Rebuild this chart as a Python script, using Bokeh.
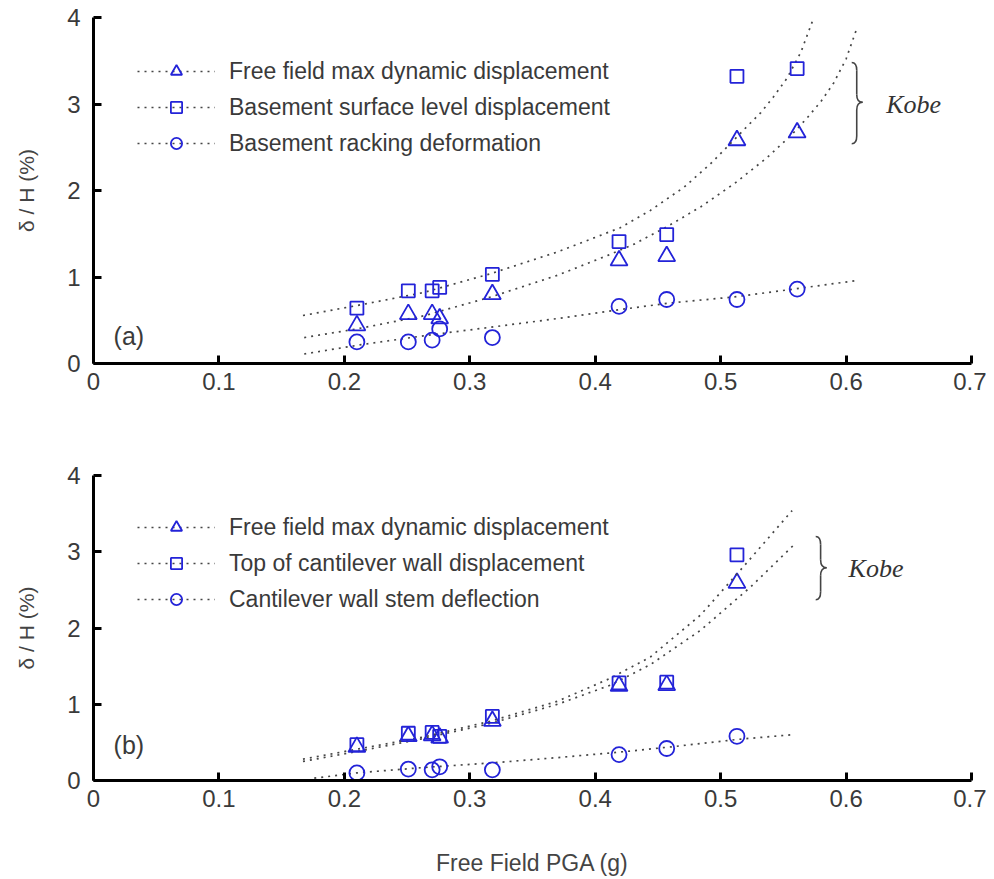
from bokeh.plotting import figure
from bokeh.layouts import column
from bokeh.models import Legend, LegendItem, FixedTicker
from bokeh.core.properties import value
from bokeh.embed import file_html
from bokeh.resources import INLINE

# ---------------- data ----------------
x_ticks = [0, 0.1, 0.2, 0.3, 0.4, 0.5, 0.6, 0.7]
x_tick_labels = ["0", "0.1", "0.2", "0.3", "0.4", "0.5", "0.6", "0.7"]
y_ticks = [0, 1, 2, 3, 4]
y_tick_labels = ["0", "1", "2", "3", "4"]

# panel (a) - basement
pga_a = [0.210, 0.251, 0.270, 0.276, 0.318, 0.419, 0.457, 0.513, 0.561]
ff_a = [0.44, 0.57, 0.57, 0.52, 0.80, 1.19, 1.24, 2.58, 2.67]
bsl_a = [0.64, 0.84, 0.84, 0.88, 1.03, 1.41, 1.49, 3.32, 3.41]
rack_a = [0.25, 0.25, 0.27, 0.40, 0.30, 0.66, 0.74, 0.74, 0.86]

# trend lines (a)
ff_fit_a_x = [0.168, 0.210, 0.263, 0.317, 0.370, 0.410, 0.431, 0.457, 0.484, 0.511, 0.537, 0.557, 0.569, 0.580, 0.590, 0.600, 0.608]
ff_fit_a_y = [0.30, 0.40, 0.55, 0.77, 1.02, 1.25, 1.38, 1.58, 1.81, 2.08, 2.38, 2.65, 2.84, 3.03, 3.24, 3.52, 3.85]
bsl_fit_a_x = [0.167, 0.210, 0.263, 0.317, 0.370, 0.420, 0.444, 0.471, 0.492, 0.513, 0.521, 0.532, 0.542, 0.553, 0.564, 0.573]
bsl_fit_a_y = [0.555, 0.67, 0.82, 1.04, 1.29, 1.57, 1.77, 2.04, 2.31, 2.62, 2.74, 2.90, 3.08, 3.30, 3.60, 3.95]
rack_fit_a_x = [0.168, 0.210, 0.263, 0.317, 0.370, 0.423, 0.460, 0.511, 0.558, 0.609]
rack_fit_a_y = [0.11, 0.21, 0.32, 0.42, 0.52, 0.63, 0.70, 0.77, 0.86, 0.96]

# panel (b) - cantilever wall
pga_b = [0.210, 0.251, 0.270, 0.276, 0.318, 0.419, 0.457, 0.513]
ff_b = [0.44, 0.58, 0.59, 0.56, 0.78, 1.24, 1.25, 2.59]
top_b = [0.47, 0.62, 0.63, 0.58, 0.84, 1.28, 1.29, 2.96]
stem_b = [0.10, 0.15, 0.14, 0.18, 0.14, 0.34, 0.42, 0.58]

ff_fit_b_x = [0.167, 0.210, 0.263, 0.317, 0.370, 0.412, 0.444, 0.484, 0.524, 0.559]
ff_fit_b_y = [0.25, 0.38, 0.55, 0.75, 1.00, 1.25, 1.52, 1.97, 2.54, 3.10]
top_fit_b_x = [0.167, 0.210, 0.263, 0.317, 0.370, 0.412, 0.444, 0.484, 0.519, 0.557]
top_fit_b_y = [0.28, 0.41, 0.57, 0.78, 1.04, 1.34, 1.62, 2.17, 2.82, 3.54]
stem_fit_b_x = [0.176, 0.210, 0.263, 0.317, 0.370, 0.418, 0.460, 0.514, 0.557]
stem_fit_b_y = [0.03, 0.10, 0.17, 0.23, 0.30, 0.37, 0.44, 0.54, 0.60]

labels_a = ["Free field max dynamic displacement",
            "Basement surface level displacement",
            "Basement racking deformation"]
labels_b = ["Free field max dynamic displacement",
            "Top of cantilever wall displacement",
            "Cantilever wall stem deflection"]

# ---------------- style ----------------
BLUE = "#2323d8"
DOT = "#454545"
TXT = "#3a3a3a"
FONT = "Liberation Sans"


def make_panel(height, top, bottom, xlabel, pga, series, fits, labels,
               legend_loc, panel_label, panel_label_y, brace, kobe_xy):
    p = figure(width=986, height=height, x_range=(0, 0.7), y_range=(0, 4),
               output_backend="svg", toolbar_location=None,
               min_border_left=93, min_border_right=15,
               min_border_top=top, min_border_bottom=bottom)
    p.outline_line_color = None
    p.xgrid.visible = False
    p.ygrid.visible = False

    for ax, ticks, labs in ((p.xaxis[0], x_ticks, x_tick_labels),
                            (p.yaxis[0], y_ticks, y_tick_labels)):
        ax.ticker = FixedTicker(ticks=ticks)
        ax.major_label_overrides = dict(zip(ticks, labs))
        ax.axis_line_width = 3
        ax.axis_line_color = "black"
        ax.major_tick_in = 8
        ax.major_tick_out = 0
        ax.major_tick_line_width = 3
        ax.minor_tick_line_color = None
        ax.major_label_text_font = FONT
        ax.major_label_text_font_size = "24px"
        ax.major_label_text_color = TXT
        ax.axis_label_text_font = FONT
        ax.axis_label_text_font_style = "normal"
        ax.axis_label_text_color = "#444444"

    p.xaxis.major_label_standoff = 9
    p.yaxis.major_label_standoff = 13
    p.yaxis.axis_label = "\u03b4 / H (%)"
    p.yaxis.axis_label_text_font_size = "21px"
    p.yaxis.axis_label_standoff = 26
    if xlabel:
        p.xaxis.axis_label = xlabel
        p.xaxis.axis_label_text_font_size = "23px"
        p.xaxis.axis_label_standoff = 40

    markers = ["triangle", "square", "circle"]
    sizes = [17, 13, 15]
    items = []
    for (ys, (fx, fy), mk, sz, lab) in zip(series, fits, markers, sizes, labels):
        lr = p.line(fx, fy, line_color=DOT, line_width=1.7, line_dash="2 5")
        sr = p.scatter(pga, ys, marker=mk, size=sz, fill_color=None,
                       line_color=BLUE, line_width=1.8)
        items.append(LegendItem(label=lab, renderers=[lr, sr]))

    legend = Legend(items=items, location=legend_loc,
                    border_line_color=None, background_fill_alpha=0,
                    padding=0, margin=0, spacing=8,
                    glyph_width=78, glyph_height=28, label_standoff=14,
                    label_text_font=FONT, label_text_font_size="23px",
                    label_text_color=TXT, label_text_baseline="middle")
    p.add_layout(legend)

    p.text(x=[0.016], y=[panel_label_y], text=[panel_label],
           text_font=value(FONT), text_font_size="25px",
           text_color=TXT, text_baseline="middle")

    # curly brace "}"
    x0, xm, xt, yt, ym, yb, r = brace
    bc = "#444444"
    p.quadratic(x0=[x0, xm, xm, x0], y0=[yt, ym + r, ym - r, yb],
                x1=[xm, xt, xt, xm], y1=[yt - r, ym, ym, yb + r],
                cx=[xm, xm, xm, xm], cy=[yt, ym, ym, yb],
                line_color=bc, line_width=1.6)
    p.segment(x0=[xm, xm], y0=[yt - r, ym - r], x1=[xm, xm], y1=[ym + r, yb + r],
              line_color=bc, line_width=1.6)
    p.text(x=[kobe_xy[0]], y=[kobe_xy[1]], text=["Kobe"],
           text_font=value("Liberation Serif"), text_font_style="italic",
           text_font_size="26px", text_color="#333333", text_baseline="middle")
    return p


pa = make_panel(428, 17, 65, None, pga_a, [ff_a, bsl_a, rack_a],
                [(ff_fit_a_x, ff_fit_a_y), (bsl_fit_a_x, bsl_fit_a_y),
                 (rack_fit_a_x, rack_fit_a_y)],
                labels_a, (44, 206), "(a)", 0.32,
                (0.6045, 0.6085, 0.6132, 3.48, 3.02, 2.54, 0.09), (0.632, 3.0))

pb = make_panel(451, 47, 99, "Free Field PGA (g)", pga_b, [ff_b, top_b, stem_b],
                [(ff_fit_b_x, ff_fit_b_y), (top_fit_b_x, top_fit_b_y),
                 (stem_fit_b_x, stem_fit_b_y)],
                labels_b, (44, 167), "(b)", 0.46,
                (0.5758, 0.5797, 0.5845, 3.20, 2.79, 2.37, 0.105), (0.602, 2.78))

layout = column(pa, pb)
open("out.html", "w").write(file_html(layout, INLINE))
